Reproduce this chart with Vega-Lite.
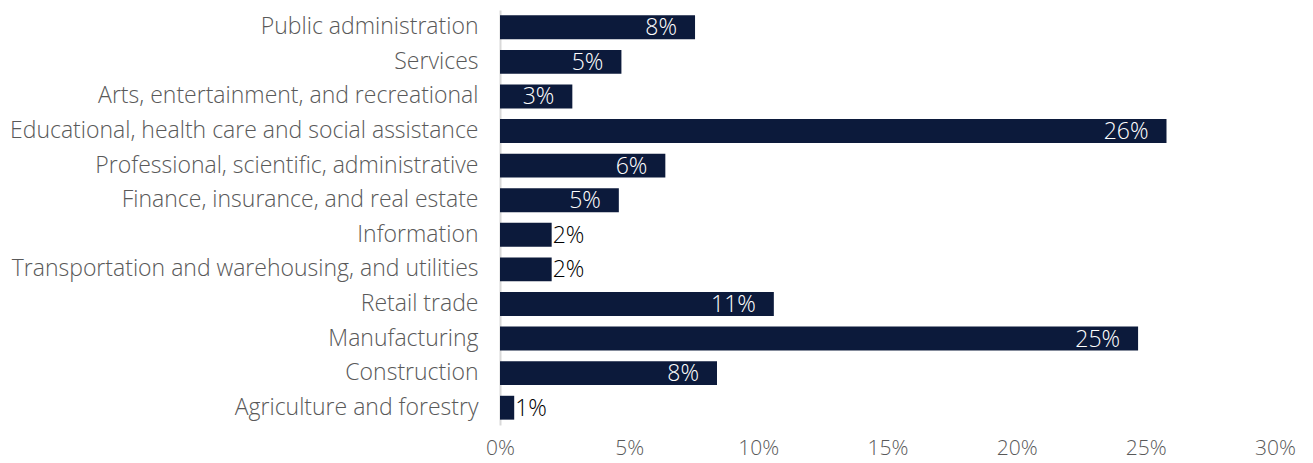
{
  "$schema": "https://vega.github.io/schema/vega-lite/v6.json",
  "width": 775,
  "height": 415,
  "autosize": {"type": "none"},
  "padding": {"left": 500, "top": 10, "right": 38, "bottom": 38},
  "background": "white",
  "config": {
    "view": {"stroke": null},
    "font": "Open Sans",
    "axis": {"labelFont": "Open Sans", "labelFontWeight": 300, "labelColor": "#595959", "labelFontSize": 23, "ticks": false, "grid": false, "title": null}
  },
  "data": {
    "values": [
      {"sector": "Public administration", "value": 0.0755},
      {"sector": "Services", "value": 0.047},
      {"sector": "Arts, entertainment, and recreational", "value": 0.028},
      {"sector": "Educational, health care and social assistance", "value": 0.258},
      {"sector": "Professional, scientific, administrative", "value": 0.064},
      {"sector": "Finance, insurance, and real estate", "value": 0.046},
      {"sector": "Information", "value": 0.02},
      {"sector": "Transportation and warehousing, and utilities", "value": 0.02},
      {"sector": "Retail trade", "value": 0.106},
      {"sector": "Manufacturing", "value": 0.247},
      {"sector": "Construction", "value": 0.084},
      {"sector": "Agriculture and forestry", "value": 0.0055}
    ]
  },
  "encoding": {
    "y": {
      "field": "sector", "type": "nominal", "sort": null,
      "scale": {"paddingInner": 0.31, "paddingOuter": 0.155},
      "axis": {"domain": true, "domainColor": "#d9d9d9", "domainWidth": 2, "labelPadding": 22, "labelLimit": 600}
    },
    "x": {
      "field": "value", "type": "quantitative",
      "scale": {"domain": [0, 0.3], "nice": false},
      "axis": {"domain": false, "format": ".0%", "values": [0, 0.05, 0.1, 0.15, 0.2, 0.25, 0.3], "labelPadding": 12, "labelFontSize": 21, "labelFlush": false}
    }
  },
  "layer": [
    {"mark": {"type": "bar", "color": "#0c1a3b"}},
    {
      "transform": [{"filter": "datum.value >= 0.025"}],
      "mark": {"type": "text", "align": "right", "baseline": "middle", "dx": -18, "dy": 1, "color": "white", "fontSize": 23, "fontWeight": 300},
      "encoding": {"text": {"field": "value", "type": "quantitative", "format": ".0%"}}
    },
    {
      "transform": [{"filter": "datum.value < 0.025"}],
      "mark": {"type": "text", "align": "left", "baseline": "middle", "dx": 1, "dy": 1, "color": "#000000", "fontSize": 23, "fontWeight": 300},
      "encoding": {"text": {"field": "value", "type": "quantitative", "format": ".0%"}}
    }
  ]
}
